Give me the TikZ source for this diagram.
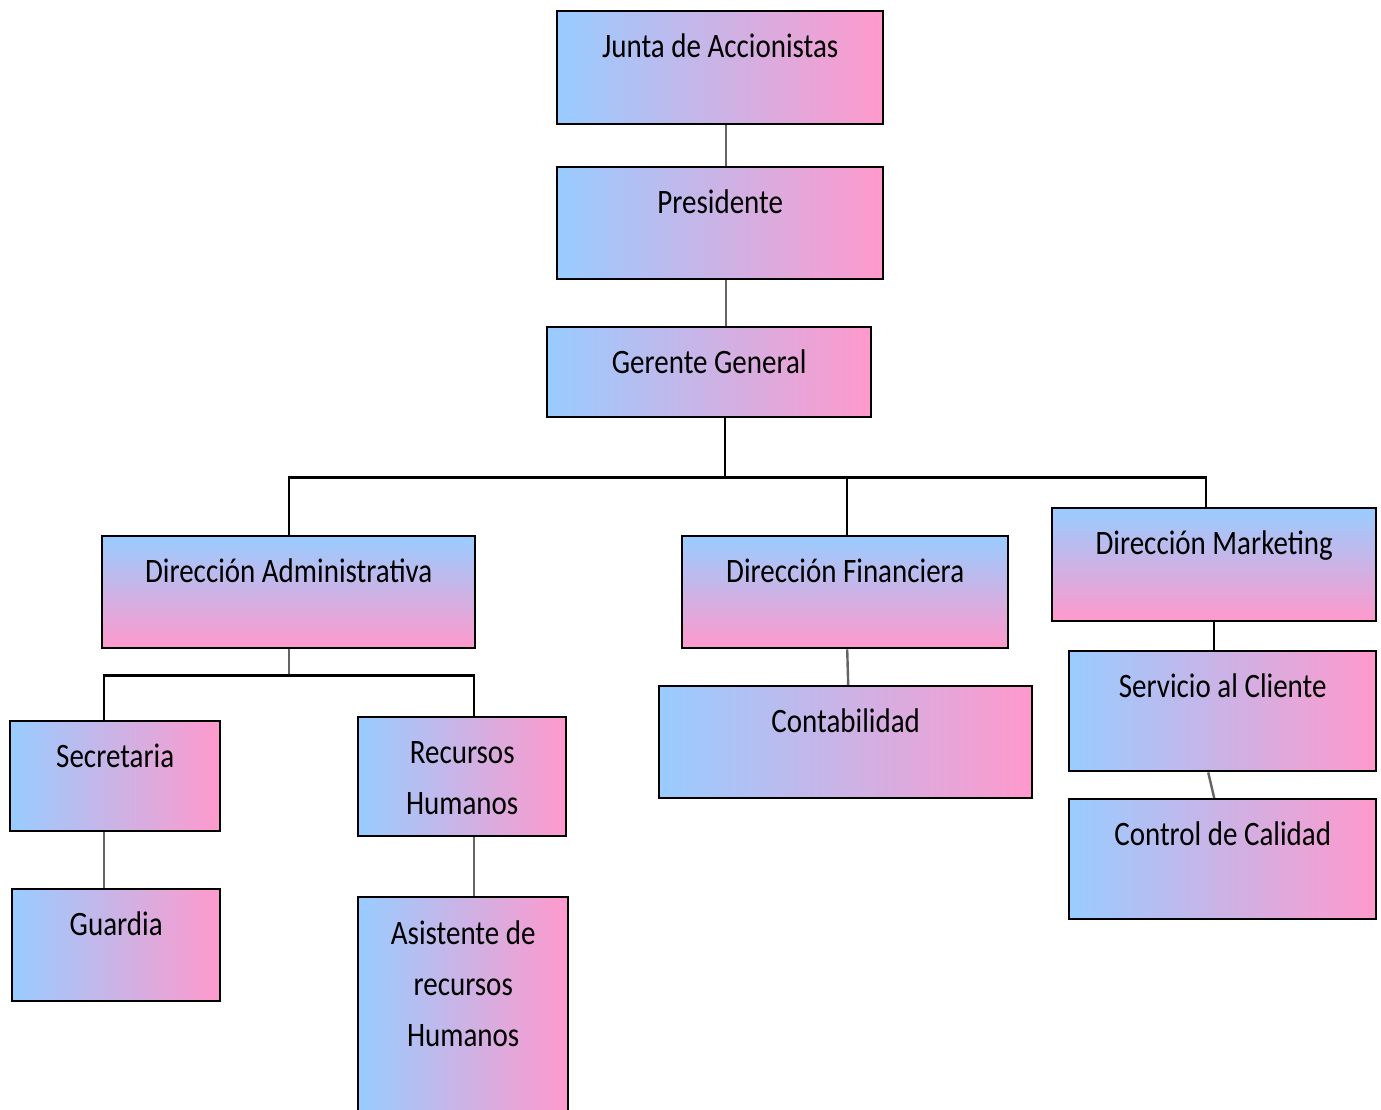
\documentclass[tikz,border=0pt]{standalone}
\usepackage{fontspec}
\usepackage{graphicx}
\setmainfont{Carlito}
\usetikzlibrary{calc}
\definecolor{lblue}{RGB}{153,204,255}
\definecolor{lpink}{RGB}{255,153,204}
\definecolor{connc}{RGB}{100,100,100}
\newcommand\boxlabel[3][47]{\node[lbl] (#2-t) at ($(#2.north)+(0,#1)$) {#3};}
\newcommand\tall[1]{\scalebox{1}[1.18]{#1}}
\begin{document}
\begin{tikzpicture}[x=1pt,y=-1pt,
 hbox/.style={draw=black, line width=2.4pt, left color=lblue, right color=lpink, anchor=north west, inner sep=0pt},
 vbox/.style={draw=black, line width=2.4pt, top color=lblue, bottom color=lpink, anchor=north west, inner sep=0pt},
 lbl/.style={anchor=base, font=\fontsize{29}{51}\selectfont, align=center, inner sep=0pt},
 conn/.style={draw=connc, line width=2.4pt},
 bus/.style={draw=black, line width=2.2pt}]
\useasboundingbox[fill=white] (0,0) rectangle (1381,1109);

% boxes
\node[hbox, minimum width=326pt, minimum height=113pt] (junta) at (556,10) {};
\node[hbox, minimum width=326pt, minimum height=112pt] (pres) at (556,166) {};
\node[hbox, minimum width=324pt, minimum height=90pt] (ger) at (546,326) {};
\node[vbox, minimum width=373pt, minimum height=112pt] (admin) at (101,535) {};
\node[vbox, minimum width=326pt, minimum height=112pt] (fin) at (681,535) {};
\node[vbox, minimum width=324pt, minimum height=113pt] (mkt) at (1051,507) {};
\node[hbox, minimum width=373pt, minimum height=112pt] (cont) at (658,685) {};
\node[hbox, minimum width=307pt, minimum height=120pt] (serv) at (1068,650) {};
\node[hbox, minimum width=307pt, minimum height=120pt] (ctrl) at (1068,798) {};
\node[hbox, minimum width=210pt, minimum height=110pt] (secr) at (9,720) {};
\node[hbox, minimum width=208pt, minimum height=119pt] (rh) at (357,716) {};
\node[hbox, minimum width=208pt, minimum height=112pt] (guard) at (11,888) {};
\node[hbox, minimum width=210pt, minimum height=232pt] (asis) at (357,896) {};

% labels
\boxlabel{junta}{\tall{Junta de Accionistas}}
\boxlabel{pres}{\tall{Presidente}}
\boxlabel{ger}{\tall{Gerente General}}
\boxlabel{admin}{\tall{Dirección Administrativa}}
\boxlabel{fin}{\tall{Dirección Financiera}}
\boxlabel{mkt}{\tall{Dirección Marketing}}
\boxlabel{cont}{\tall{Contabilidad}}
\boxlabel{serv}{\tall{Servicio al Cliente}}
\boxlabel{ctrl}{\tall{Control de Calidad}}
\boxlabel{secr}{\tall{Secretaria}}
\boxlabel[98]{rh}{\tall{Recursos}\\\tall{Humanos}}
\boxlabel{guard}{\tall{Guardia}}
\boxlabel[150]{asis}{\tall{Asistente de}\\\tall{recursos}\\\tall{Humanos}}

% connectors
\draw[conn] ($(junta.south)+(6,0)$) -- ($(pres.north)+(6,0)$);
\draw[conn] ($(pres.south)+(6,0)$) -- ($(ger.north)+(17,0)$);
\coordinate (busC) at ($(ger.south)+(16,59)$);
\draw[bus] ($(ger.south)+(16,0)$) -- (busC);
\draw[bus] (admin.north) |- (busC) -| ($(mkt.north)+(-8,0)$);
\draw[bus] ($(fin.north)+(2,0)$) -- ($(fin.north |- busC)+(2,0)$);
\draw[conn] ($(fin.south)+(2,0)$) -- ($(cont.north)+(2.5,0)$);
\draw[bus] (mkt.south) -- (mkt.south |- serv.north);
\draw[conn] ($(serv.south)+(-14.5,0)$) -- ($(ctrl.north)+(-8.5,0)$);
\coordinate (abus) at ($(admin.south)+(0,26)$);
\draw[conn] (admin.south) -- (abus);
\draw[bus] ($(secr.north)+(-11,0)$) |- (abus) -| ($(rh.north)+(12,0)$);
\draw[conn] ($(secr.south)+(-11,0)$) -- ($(guard.north)+(-12,0)$);
\draw[conn] ($(rh.south)+(12,0)$) -- ($(asis.north)+(11,0)$);
\end{tikzpicture}
\end{document}
